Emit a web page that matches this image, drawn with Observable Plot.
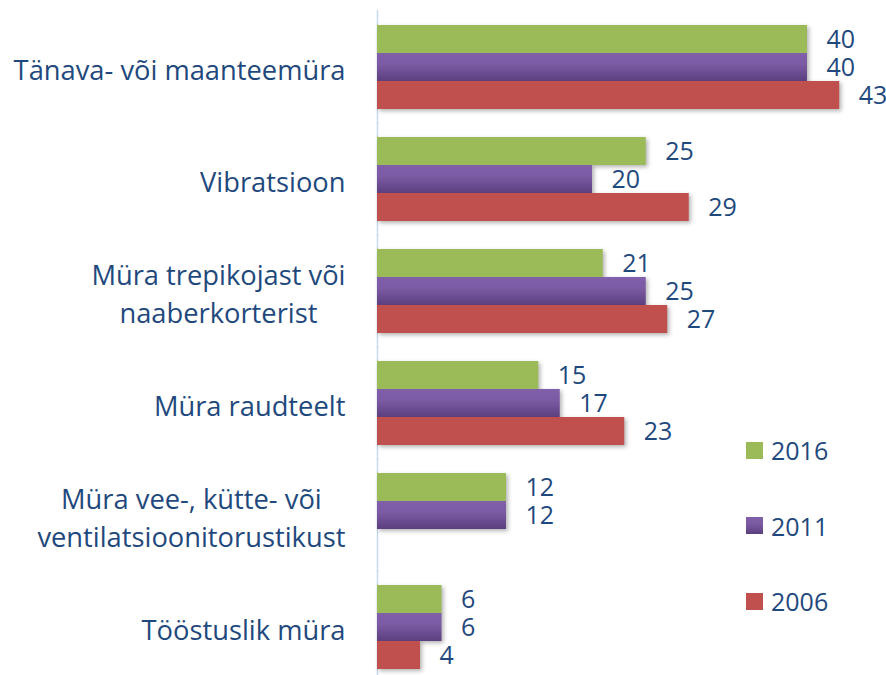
<!DOCTYPE html>
<html>
<head>
<meta charset="utf-8">
<script src="https://cdn.jsdelivr.net/npm/d3@7"></script>
<script src="https://cdn.jsdelivr.net/npm/@observablehq/plot@0.6"></script>
<style>
  html, body { margin: 0; padding: 0; background: #fff; overflow: hidden; }
  #chart { position: relative; width: 886px; height: 675px; font-family: "Open Sans", sans-serif; }
  #legend { position: absolute; left: 746px; top: 434px; }
  .item { display: flex; align-items: center; height: 32px; margin-bottom: 43.5px; color: #1F497D; font-size: 25px; }
  .sw { width: 17px; height: 17px; margin-right: 8px; }
</style>
</head>
<body>
<div id="chart"><div id="legend"></div></div>
<script>
const categories = [
  "Tänava- või maanteemüra",
  "Vibratsioon",
  "Müra trepikojast või\nnaaberkorterist",
  "Müra raudteelt",
  "Müra vee-, kütte- või\nventilatsioonitorustikust",
  "Tööstuslik müra"
];
const years = ["2016", "2011", "2006"];
const values2016 = [40, 25, 21, 15, 12, 6];
const values2011 = [40, 20, 25, 17, 12, 6];
const values2006 = [43, 29, 27, 23, null, 4];
const colors = ["#9BBB59", "url(#purpleGrad)", "#C0504D"];
const swatchCss = ["#9BBB59", "linear-gradient(#8060AA, #7C5AA4 40%, #5B3F7E)", "#C0504D"];

const series = [values2016, values2011, values2006];
const rows = categories.flatMap((c, i) =>
  years.map((yr, j) => ({category: c, year: yr, value: series[j][i]}))
).filter(d => d.value != null);

const textColor = "#1F497D";

const plot = Plot.plot({
  width: 886,
  height: 684,
  marginTop: 10,
  marginBottom: 0,
  marginLeft: 377,
  marginRight: 0,
  style: {fontFamily: "'Open Sans', sans-serif", background: "transparent", overflow: "visible"},
  x: {domain: [0, 47.35], axis: null},
  fy: {domain: categories, paddingInner: 0.2533, paddingOuter: 0.12, axis: null, label: null},
  y: {domain: years, padding: 0, axis: null},
  color: {domain: years, range: colors},
  marks: [
    Plot.ruleX([0], {stroke: "#C6D9F0", strokeWidth: 1.5, insetTop: -15, insetBottom: -15}),
    Plot.barX(rows, {
      fy: "category", y: "year", x: "value", fill: "year",
      imageFilter: "drop-shadow(2px 2px 2px rgba(0,0,0,0.3))"
    }),
    Plot.text(rows, {
      fy: "category", y: "year", x: "value", text: d => String(d.value),
      textAnchor: "start", dx: 19, fill: textColor, fontSize: 25
    }),
    Plot.text(categories, {
      fy: d => d, text: d => d, frameAnchor: "left", textAnchor: "middle",
      dx: -32, fill: textColor, fontSize: 27.3, lineHeight: 1.42,
      className: "catlabel"
    })
  ]
});

const chart = document.getElementById("chart");
chart.insertBefore(plot, chart.firstChild);

// gradient definition for the 2011 bars
const svgNS = "http://www.w3.org/2000/svg";
const defs = document.createElementNS(svgNS, "defs");
defs.innerHTML = `<linearGradient id="purpleGrad" x1="0" y1="0" x2="0" y2="1">
  <stop offset="0" stop-color="#8060AA"/>
  <stop offset="0.4" stop-color="#7C5AA4"/>
  <stop offset="1" stop-color="#5B3F7E"/>
</linearGradient>`;
plot.insertBefore(defs, plot.firstChild);

// right-align the blocks of centred lines
const labelTexts = new Set([
  ...plot.querySelectorAll(".catlabel text"),
  ...plot.querySelectorAll("g.catlabel text"),
  ...plot.querySelectorAll("text.catlabel")
]);
labelTexts.forEach(t => {
  const w = t.getBBox().width;
  const tr = t.getAttribute("transform") || "";
  t.setAttribute("transform", tr + ` translate(${-w / 2},0)`);
});

// legend
const legend = document.getElementById("legend");
years.forEach((yr, j) => {
  const item = document.createElement("div");
  item.className = "item";
  const sw = document.createElement("div");
  sw.className = "sw";
  sw.style.background = swatchCss[j];
  const lab = document.createElement("span");
  lab.textContent = yr;
  item.appendChild(sw);
  item.appendChild(lab);
  legend.appendChild(item);
});
</script>
</body>
</html>
